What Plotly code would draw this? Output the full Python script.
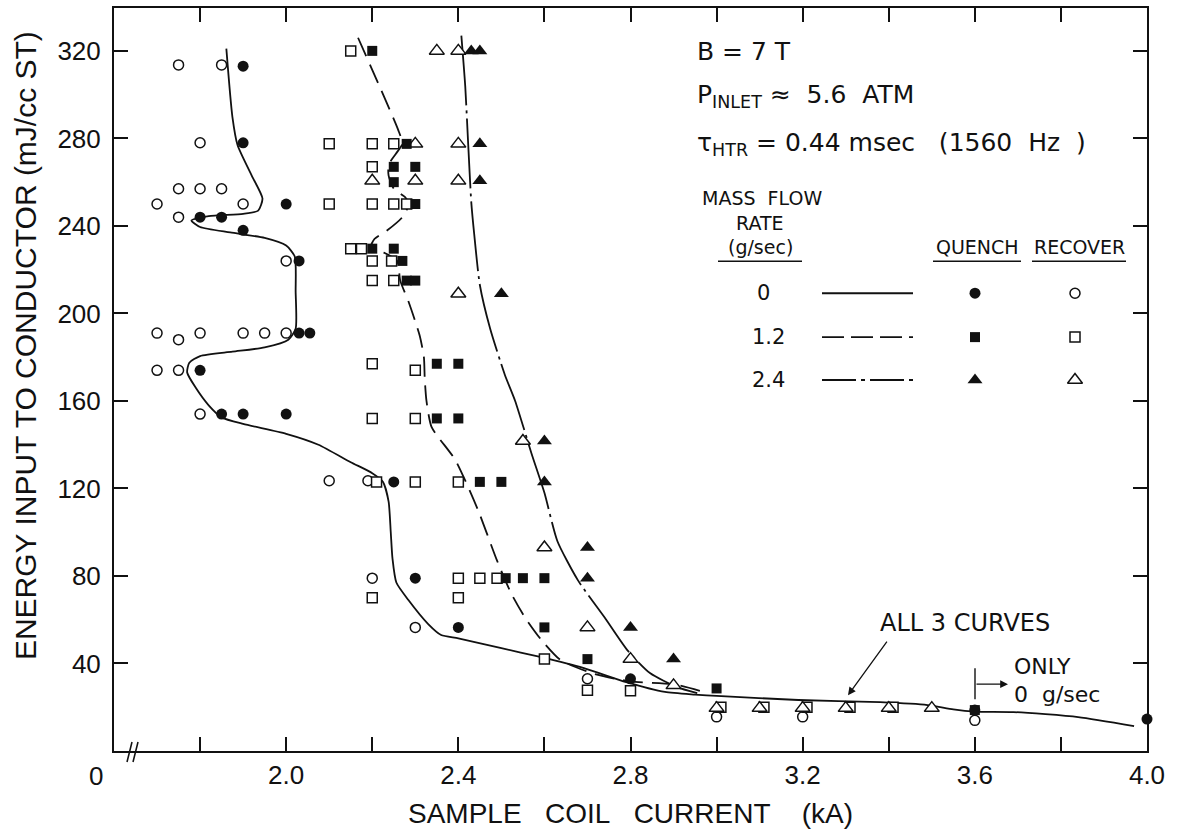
import plotly.graph_objects as go

# ---------------- data ----------------
# 0 g/sec : quench (filled circles) and recover (open circles)
q0_x = [1.90, 1.90, 2.00, 1.80, 1.85, 1.90, 2.03, 2.03, 2.055, 1.80, 1.85, 1.90, 2.00,
        2.25, 2.30, 2.40, 2.80, 3.60, 4.00]
q0_y = [313, 278, 250, 244, 244, 238, 224, 191, 191, 174, 154, 154, 154,
        123, 79, 56.5, 33, 18.7, 14.6]
r0_x = [1.75, 1.85, 1.80, 1.75, 1.80, 1.85, 1.70, 1.90, 1.75, 2.00, 1.70, 1.80, 1.90,
        1.95, 2.00, 1.75, 1.70, 1.75, 1.80, 2.10, 2.19, 2.20, 2.30, 2.70, 3.00, 3.20, 3.60]
r0_y = [313.6, 313.6, 278, 257, 257, 257, 250, 250, 244, 224, 191, 191, 191,
        191, 191, 188, 174, 174, 154, 123.5, 123.5, 79, 56.5, 33, 15.6, 15.6, 14]

# 1.2 g/sec : quench (filled squares) and recover (open squares)
q12_x = [2.20, 2.28, 2.25, 2.30, 2.25, 2.30, 2.20, 2.25, 2.27, 2.28, 2.30, 2.35, 2.40,
         2.35, 2.40, 2.45, 2.50, 2.51, 2.55, 2.60, 2.60, 2.70, 3.00, 3.60]
q12_y = [320, 277.5, 267, 267, 260, 250, 229.6, 229.6, 224, 215, 215, 177, 177,
         152, 152, 123, 123, 79, 79, 79, 56.5, 42, 28.6, 18.7]
r12_x = [2.15, 2.10, 2.20, 2.25, 2.20, 2.10, 2.20, 2.25, 2.28, 2.15, 2.175, 2.20, 2.245,
         2.20, 2.25, 2.20, 2.30, 2.20, 2.30, 2.21, 2.30, 2.40, 2.40, 2.45, 2.49, 2.20,
         2.40, 2.60, 2.70, 2.80, 3.01, 3.11, 3.21, 3.31, 3.41]
r12_y = [320, 277.5, 277.5, 277.5, 267, 250, 250, 250, 250, 229.6, 229.6, 224, 224,
         215, 215, 177, 174, 152, 152, 123, 123, 123, 79, 79, 79, 70,
         70, 42, 27.8, 27.5, 20, 20, 20, 20, 20]

# 2.4 g/sec : quench (filled triangles) and recover (open triangles)
q24_x = [2.43, 2.45, 2.45, 2.45, 2.50, 2.60, 2.60, 2.70, 2.70, 2.80, 2.90]
q24_y = [320, 320, 277.5, 260.6, 209, 141.7, 123, 93, 79, 56.5, 42]
r24_x = [2.35, 2.40, 2.30, 2.40, 2.20, 2.30, 2.40, 2.40, 2.55, 2.60, 2.70, 2.80, 2.90,
         3.00, 3.10, 3.20, 3.30, 3.40, 3.50]
r24_y = [320, 320, 277.5, 277.5, 260.6, 260.6, 260.6, 209, 141.7, 93, 56.5, 42, 30,
         19.6, 19.6, 19.6, 19.6, 19.6, 19.6]

# hand-drawn boundary curves
c0_x = [1.861, 1.875, 1.887, 1.92, 1.945, 1.935, 1.90, 1.82, 1.78, 1.80, 1.87, 1.95, 2.00,
        2.02, 2.022, 2.022, 2.005, 1.95, 1.875, 1.80, 1.775, 1.77, 1.79, 1.82, 1.85, 1.90,
        2.00, 2.075, 2.15, 2.20, 2.225, 2.238, 2.243, 2.247, 2.256, 2.284, 2.33, 2.36, 2.40,
        2.50, 2.59, 2.69, 2.79, 2.88, 2.95, 3.00, 3.19, 3.38, 3.49, 3.55, 3.60, 3.69, 3.84, 3.97]
c0_y = [321, 290, 277, 263, 252.5, 247, 245.5, 244.5, 242.5, 239.5, 237, 234.5, 231,
        226, 210, 193, 188, 184.5, 182.5, 180.5, 177.5, 173, 166, 158, 152.5, 149.5,
        145, 140, 132, 127, 123, 114, 100, 88, 77, 69, 58, 53, 51.5,
        47, 43, 38, 31.5, 27, 25.8, 25.2, 23.3, 22.3, 21, 19, 18, 17.8, 15.5, 11.4]
c12_x = [2.167, 2.26, 2.27, 2.255, 2.238, 2.238, 2.25, 2.277, 2.285, 2.27, 2.235, 2.205,
         2.196, 2.23, 2.258, 2.265, 2.285, 2.31, 2.32, 2.322, 2.326, 2.338, 2.393, 2.446,
         2.49, 2.523, 2.555, 2.592, 2.638, 2.72, 2.80, 2.90, 2.97]
c12_y = [326, 284, 277.6, 273, 268, 263, 257, 253, 250, 244, 238, 234,
         230, 227.5, 224, 215, 205, 190, 180, 170, 160, 148, 133, 110,
         87, 72, 61, 51, 41.5, 35, 31.8, 30.5, 27]
c24_x = [2.407, 2.416, 2.423, 2.43, 2.437, 2.45, 2.474, 2.508, 2.532, 2.57, 2.60, 2.63,
         2.678, 2.74, 2.793, 2.846, 2.908, 2.955]
c24_y = [327, 304, 277, 251, 236, 213, 193, 172, 160, 136, 118, 96,
         78, 61, 46, 35.5, 29.2, 26.4]

x_ticks = [2.0, 2.4, 2.8, 3.2, 3.6, 4.0]
x_labels = ["2.0", "2.4", "2.8", "3.2", "3.6", "4.0"]
x_minor = [1.8, 2.2, 2.6, 3.0, 3.4, 3.8]
y_ticks = [40, 80, 120, 160, 200, 240, 280, 320]
y_labels = ["40", "80", "120", "160", "200", "240", "280", "320"]

# ---------------- figure ----------------
W, H = 1182, 834
L, R, T, B = 114, 1147, 6, 751
FONT = "Liberation Sans"
FONT2 = "DejaVu Sans"
INK = "#111111"
NB = "\u00a0"


def px(x):
    return (x - L) / (R - L)


def py(y):
    return (B - y) / (B - T)


fig = go.Figure()

line_w = 1.8
fig.add_trace(go.Scatter(x=c0_x, y=c0_y, mode="lines",
                         line=dict(color=INK, width=line_w, shape="spline", smoothing=0.6),
                         hoverinfo="skip", showlegend=False))
fig.add_trace(go.Scatter(x=c12_x, y=c12_y, mode="lines",
                         line=dict(color=INK, width=line_w, shape="spline", smoothing=0.6,
                                   dash="20px,9px"),
                         hoverinfo="skip", showlegend=False))
fig.add_trace(go.Scatter(x=c24_x, y=c24_y, mode="lines",
                         line=dict(color=INK, width=line_w, shape="spline", smoothing=0.6,
                                   dash="70px,5px,3px,5px"),
                         hoverinfo="skip", showlegend=False))

mk_open = dict(color="white", line=dict(color=INK, width=1.5))
series = [
    (r0_x, r0_y, dict(symbol="circle", size=10, **mk_open)),
    (r12_x, r12_y, dict(symbol="square", size=10, **mk_open)),
    (r24_x, r24_y, dict(symbol="triangle-up", size=13, **mk_open)),
    (q0_x, q0_y, dict(symbol="circle", size=11, color=INK)),
    (q12_x, q12_y, dict(symbol="square", size=10, color=INK)),
    (q24_x, q24_y, dict(symbol="triangle-up", size=13, color=INK)),
]
for xs, ys, mk in series:
    fig.add_trace(go.Scatter(x=xs, y=ys, mode="markers", marker=mk, cliponaxis=False,
                             hoverinfo="skip", showlegend=False))

# ---- legend key drawn on a pixel-coordinate overlay axis ----
rows = [292, 336, 379]
dashes = ["solid", "22px,7px", "34px,5px,4px,5px"]
for yy, dsh in zip(rows, dashes):
    fig.add_trace(go.Scatter(x=[822, 913], y=[yy, yy], xaxis="x2", yaxis="y2", mode="lines",
                             line=dict(color=INK, width=1.8, dash=dsh),
                             hoverinfo="skip", showlegend=False))
key_q = [dict(symbol="circle", size=11, color=INK),
         dict(symbol="square", size=10, color=INK),
         dict(symbol="triangle-up", size=13, color=INK)]
key_r = [dict(symbol="circle", size=10, **mk_open),
         dict(symbol="square", size=10, **mk_open),
         dict(symbol="triangle-up", size=13, **mk_open)]
for yy, mq, mr in zip(rows, key_q, key_r):
    fig.add_trace(go.Scatter(x=[975], y=[yy], xaxis="x2", yaxis="y2", mode="markers",
                             marker=mq, hoverinfo="skip", showlegend=False))
    fig.add_trace(go.Scatter(x=[1075], y=[yy], xaxis="x2", yaxis="y2", mode="markers",
                             marker=mr, hoverinfo="skip", showlegend=False))

ann = []


def text(x, y, s, size, xanchor="center", angle=0, family=FONT2):
    ann.append(dict(x=px(x), y=py(y), xref="paper", yref="paper", text=s, showarrow=False,
                    xanchor=xanchor, yanchor="middle", textangle=angle,
                    font=dict(family=family, size=size, color=INK)))


text(695, 50, "B = 7 T", 25, "left")
text(695, 94, "P<sub>INLET</sub>" + NB + "≈" + NB * 2 + "5.6" + NB * 2 + "ATM", 25, "left")
text(695, 142, "τ<sub>HTR</sub> = 0.44 msec" + NB * 3 + "(1560" + NB * 2 + "Hz" + NB * 2 + ")",
     25, "left")
text(762, 197, "MASS" + NB * 2 + "FLOW", 19)
text(760, 222, "RATE", 19)
text(760, 246, "(g/sec)", 19)
text(977, 246, "QUENCH", 19)
text(1079, 246, "RECOVER", 19)
text(763, 292, "0", 21)
text(768, 336, "1.2", 21)
text(768, 379, "2.4", 21)
text(965, 623, "ALL 3 CURVES", 24)
text(1012, 666, "ONLY", 22, "left")
text(1012, 694, "0" + NB * 2 + "g/sec", 22, "left")
text(96, 776, "0", 26, family=FONT)
text(630, 814, "SAMPLE" + NB * 3 + "COIL" + NB * 3 + "CURRENT" + NB * 4 + "(kA)", 28,
     family=FONT)
text(25, 345, "ENERGY INPUT TO CONDUCTOR (mJ/cc ST)", 30, angle=-90, family=FONT)

# arrows (tail offsets in pixels)
ann.append(dict(x=px(848), y=py(695), xref="paper", yref="paper", ax=40, ay=-55,
                axref="pixel", ayref="pixel", text="", showarrow=True, arrowhead=2,
                arrowsize=1.2, arrowwidth=1.3, arrowcolor=INK))
ann.append(dict(x=px(1008), y=py(684), xref="paper", yref="paper", ax=-33, ay=0,
                axref="pixel", ayref="pixel", text="", showarrow=True, arrowhead=2,
                arrowsize=1.2, arrowwidth=1.3, arrowcolor=INK))

shapes = []


def seg(x0, y0, x1, y1, w=1.4):
    shapes.append(dict(type="line", xref="paper", yref="paper", x0=px(x0), y0=py(y0),
                       x1=px(x1), y1=py(y1), line=dict(color=INK, width=w)))


# underlines in the key
seg(718, 260, 802, 260)
seg(933, 260, 1021, 260)
seg(1032, 260, 1126, 260)
# bar for "ONLY 0 g/sec"
seg(975, 668, 975, 699)
# axis break marks
seg(127, 762, 132, 742, 1.5)
seg(133, 762, 138, 742, 1.5)

axis_common = dict(showline=True, linecolor=INK, linewidth=2, mirror="ticks",
                   ticks="inside", ticklen=14, tickwidth=1.5, tickcolor=INK,
                   showgrid=False, zeroline=False,
                   tickfont=dict(family=FONT, size=26, color=INK))

fig.update_layout(
    width=W, height=H,
    margin=dict(l=L, r=W - R, t=T, b=H - B, pad=0),
    paper_bgcolor="white", plot_bgcolor="white",
    xaxis=dict(range=[1.6, 4.0], tickmode="array", tickvals=x_ticks, ticktext=x_labels,
               ticklabelstandoff=0,
               minor=dict(tickmode="array", tickvals=x_minor, ticks="inside", ticklen=14,
                          tickwidth=1.5, tickcolor=INK, showgrid=False),
               **axis_common),
    yaxis=dict(range=[0, 339.6], tickmode="array", tickvals=y_ticks, ticktext=y_labels,
               ticklabelstandoff=6, **axis_common),
    xaxis2=dict(overlaying="x", range=[L, R], visible=False),
    yaxis2=dict(overlaying="y", range=[B, T], visible=False),
    annotations=ann, shapes=shapes, showlegend=False,
)

fig.write_html("out.html", config={"displayModeBar": False},
               post_script="document.body.style.margin='0px';")
